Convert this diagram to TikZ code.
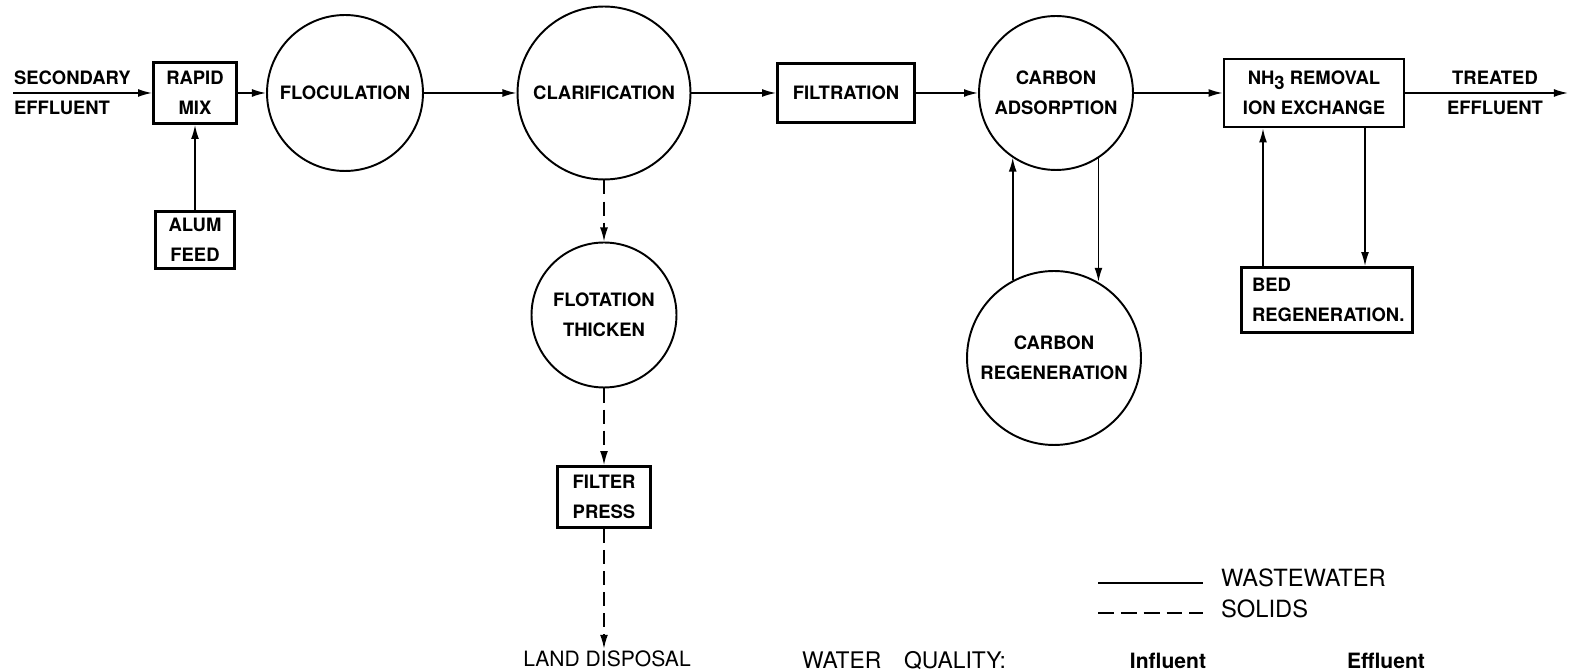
\documentclass[tikz,border=0pt]{standalone}
\usepackage{fontspec}
\setmainfont{TeX Gyre Heros}
\usetikzlibrary{arrows.meta}

\begin{document}
\begin{tikzpicture}[x=0.02cm,y=-0.02cm,
    lbl/.style={font=\bfseries\fontsize{10.5}{17}\selectfont, align=center, inner sep=1pt},
    unit/.style={lbl, draw, rectangle, line width=1.6pt},
    tank/.style={lbl, draw, circle, inner sep=0pt, line width=1.1pt},
    flow/.style={line width=0.9pt, -{Latex[length=8pt,width=4.5pt]}},
    sludge/.style={flow, dash pattern=on 8pt off 4pt}]
    \useasboundingbox (0,0) rectangle (1570,671);
    % main treatment train
    \coordinate (in) at (13,93);
    \node[lbl, anchor=west, align=left] (inlbl) at (12,93) {SECONDARY\\EFFLUENT};
    \node[unit, minimum width=1.66cm, minimum height=1.22cm] (rapid) at (195,93) {RAPID\\MIX};
    \node[tank, minimum size=3.12cm] (floc) at (345,93) {FLOCULATION};
    \node[tank, minimum size=3.46cm] (clar) at (604,93) {CLARIFICATION};
    \node[unit, minimum width=2.74cm, minimum height=1.18cm] (filt) at (846,93) {FILTRATION};
    \node[tank, minimum size=3.08cm] (cads) at (1056,93) {CARBON\\ADSORPTION};
    \node[unit, minimum width=3.6cm, minimum height=1.36cm] (nh3) at (1314,93) {NH\raisebox{-0.5ex}{3} REMOVAL\\ION EXCHANGE};
    \coordinate (out) at (1568,93);
    \node[lbl] (outlbl) at (1495,93) {TREATED\\EFFLUENT};
    \draw[flow] (in) -- (rapid);
    \foreach \a/\b in {rapid/floc, floc/clar, clar/filt, filt/cads, cads/nh3, nh3/out}
        \draw[flow] (\a) -- (\b);
    % chemical feed
    \node[unit, minimum width=1.58cm, minimum height=1.14cm] (alum) at (195,240) {ALUM\\FEED};
    \draw[flow] (alum) -- (rapid);
    % solids handling
    \node[tank, minimum size=2.9cm] (flot) at (604,315) {FLOTATION\\THICKEN};
    \node[unit, minimum width=1.86cm, minimum height=1.22cm] (press) at (604,497) {FILTER\\PRESS};
    \node[lbl, font=\fontsize{12}{14}\selectfont] (land) at (607,659) {LAND DISPOSAL};
    \draw[sludge] (clar) -- (flot);
    \draw[sludge] (flot) -- (press);
    \draw[sludge] (press) -- (press |- land.north);
    % carbon loop
    \node[tank, minimum size=3.48cm] (creg) at (1054,358) {CARBON\\REGENERATION};
    \draw[flow] (creg.118) -- (creg.118 |- cads.236);
    \draw[flow] (cads.303) -- (cads.303 |- creg.60);
    % ion exchange loop
    \node[unit, minimum width=3.42cm, minimum height=1.3cm, align=left, text width=3.0cm] (bed) at (1327,300) {BED\\REGENERATION.};
    \coordinate (bedup) at (1263,0);
    \coordinate (beddn) at (1365,0);
    \draw[flow] (bedup |- bed.north) -- (bedup |- nh3.south);
    \draw[flow] (beddn |- nh3.south) -- (beddn |- bed.north);
    % legend
    \coordinate (ww1) at (1098,583);
    \coordinate (ww2) at (1203,583);
    \coordinate (sd1) at (1098,613);
    \coordinate (sd2) at (1203,613);
    \draw[line width=0.9pt] (ww1) -- (ww2);
    \draw[line width=0.9pt, dash pattern=on 9pt off 4pt] (sd1) -- (sd2);
    \node[lbl, anchor=west, font=\fontsize{13.5}{15}\selectfont] (wwlbl) at (1219,578) {WASTEWATER};
    \node[lbl, anchor=west, font=\fontsize{13.5}{15}\selectfont] (sdlbl) at (1219,609) {SOLIDS};
    % water quality table head
    \node[lbl, anchor=base west, font=\fontsize{13}{15}\selectfont] (wq) at (800,669) {WATER\quad QUALITY:};
    \node[lbl, anchor=base, font=\bfseries\fontsize{12}{14}\selectfont] (infl) at (1168,669) {Influent};
    \node[lbl, anchor=base, font=\bfseries\fontsize{12}{14}\selectfont] (effl) at (1386,669) {Effluent};
\end{tikzpicture}
\end{document}
